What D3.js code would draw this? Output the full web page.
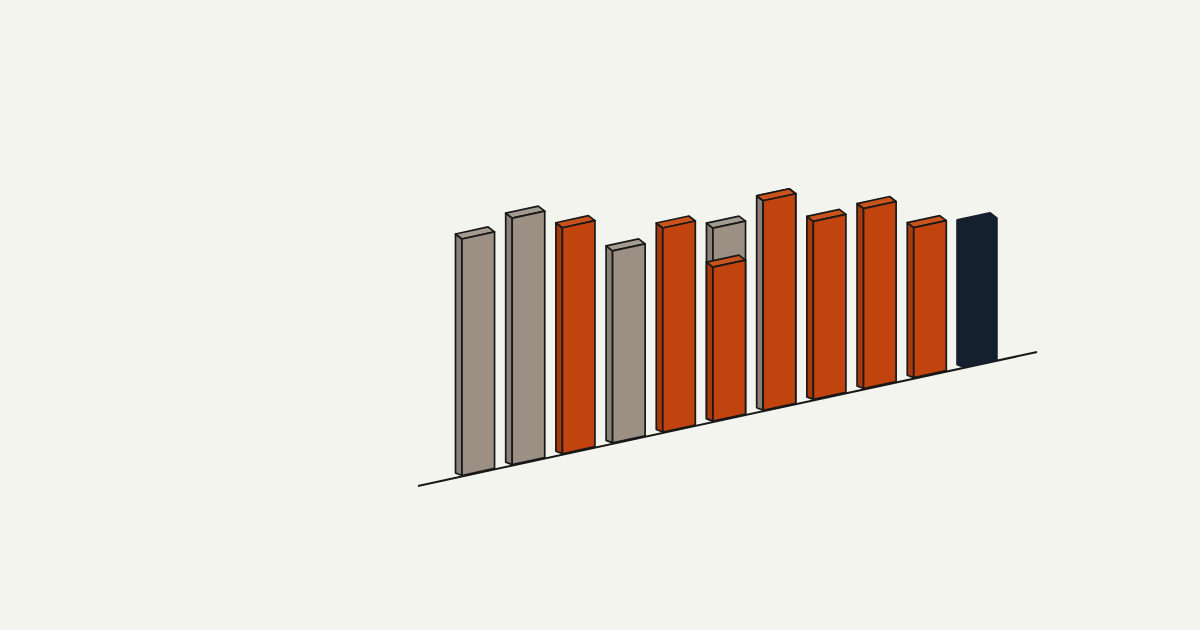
<!DOCTYPE html>
<html>
<head>
<meta charset="utf-8">
<script src="https://cdn.jsdelivr.net/npm/d3@7"></script>
<style>
  html, body { margin: 0; padding: 0; background: #f4f4ef; }
  svg { display: block; }
</style>
</head>
<body>
<svg id="chart"></svg>
<script>
// bar values (front face height, px-ish units)
const categories = ["1", "2", "3", "4", "5", "6", "7", "8", "9", "10", "11"]
const values = [236.5, 246.5, 226, 192, 204, 154, 209.5, 178, 180, 150, 141.5]
const groups = ["prior", "prior", "current", "prior", "current", "current", "current", "current", "current", "current", "latest"]
// earlier level shown behind some of the current bars
const priorValues = [null, null, null, null, null, 193, 209.5, null, null, null, null]

const width = 1200, height = 630

const svg = d3.select('#chart')
  .attr('width', width)
  .attr('height', height)

// sloped ground line
const ground = {x0: 418, y0: 486, x1: 1037, y1: 352}
const groundY = d3.scaleLinear()
  .domain([ground.x0, ground.x1])
  .range([ground.y0, ground.y1])

const x = d3.scaleBand()
  .domain(categories)
  .range([455.5, 996.5])
  .paddingInner(0.222)
  .paddingOuter(0)

const h = d3.scaleLinear()
  .domain([0, 250])
  .range([0, 250])

// the side face foot sits almost on the ground, the top recedes more
const depth = {dx: -6.5, dy: -5, footDy: -2.5}
const lift = 1

const colors = {
  prior: {front: '#9c9084', side: '#8b8177', top: '#a39a90'},
  current: {front: '#c1440f', side: '#a73a0c', top: '#c8531d'},
  latest: {front: '#15202e', side: '#15202e', top: '#15202e'}
}

const line = d3.line()
const ink = '#181818'

svg.append('line')
  .attr('x1', ground.x0).attr('y1', ground.y0)
  .attr('x2', ground.x1).attr('y2', ground.y1)
  .attr('stroke', ink)
  .attr('stroke-width', 2)

function faces(cat, v) {
  const xl = x(cat) - depth.dx
  const xr = x(cat) + x.bandwidth()
  const bl = groundY(xl) - lift, br = groundY(xr) - lift
  const tl = bl - h(v), tr = br - h(v)
  return {
    front: [[xl, bl], [xr, br], [xr, tr], [xl, tl]],
    side: [[xl, bl], [xl, tl], [xl + depth.dx, tl + depth.dy], [xl + depth.dx, bl + depth.footDy]],
    top: [[xl, tl], [xr, tr], [xr + depth.dx, tr + depth.dy], [xl + depth.dx, tl + depth.dy]],
    outline: [[xl + depth.dx, bl + depth.footDy], [xl + depth.dx, tl + depth.dy], [xr + depth.dx, tr + depth.dy],
      [xr, tr], [xr, br], [xl, bl]]
  }
}

function drawBox(g, f, c, withSide) {
  const face = (pts, fill) => g.append('path')
    .attr('d', line(pts) + 'Z')
    .attr('fill', fill)
    .attr('stroke', ink)
    .attr('stroke-width', 1.7)
    .attr('stroke-linejoin', 'round')
  if (withSide) face(f.side, c.side)
  face(f.top, c.top)
  face(f.front, c.front)
}

const bars = svg.append('g')

categories.forEach((cat, i) => {
  const g = bars.append('g')
  const grp = groups[i]

  if (grp === 'latest') {
    const f = faces(cat, values[i])
    g.append('path').attr('d', line(f.outline) + 'Z')
      .attr('fill', colors.latest.front)
      .attr('stroke', colors.latest.front)
      .attr('stroke-width', 2.5)
      .attr('stroke-linejoin', 'round')
    return
  }

  const prior = priorValues[i]
  if (prior != null) {
    drawBox(g, faces(cat, prior), colors.prior, true)
  }
  // when the prior bar is just as tall, its side stays in view
  drawBox(g, faces(cat, values[i]), colors[grp], !(prior != null && prior <= values[i]))
})
</script>
</body>
</html>
